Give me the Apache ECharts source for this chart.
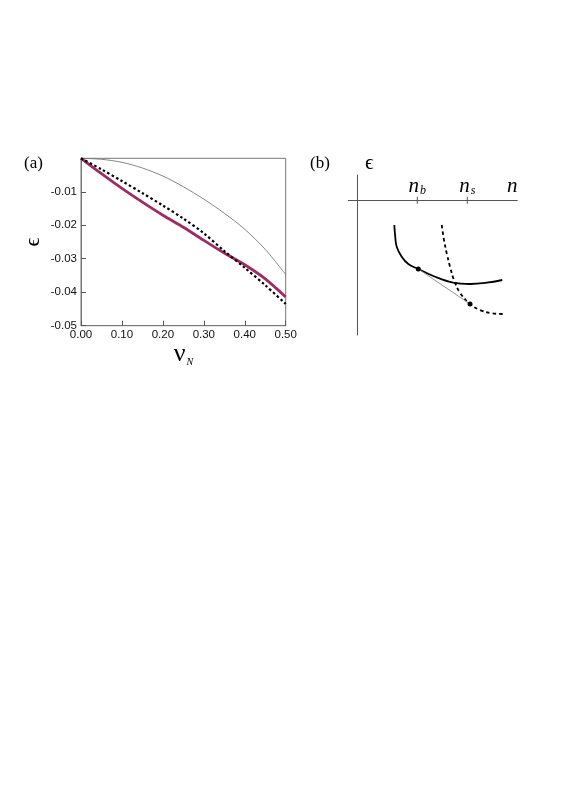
<!DOCTYPE html>
<html>
<head>
<meta charset="utf-8">
<script src="https://cdn.jsdelivr.net/npm/echarts@6.0.0/dist/echarts.min.js"></script>
<style>
  html, body { margin: 0; padding: 0; background: #fff; }
  #chart { width: 581px; height: 785px; }
</style>
</head>
<body>
<div id="chart"></div>
<script>
// panel (a): energy vs nu_N
const nuN = [0, 0.05, 0.10, 0.15, 0.20, 0.25, 0.30, 0.35, 0.40, 0.45, 0.50];
const epsThin = [0, -0.0003, -0.0012, -0.0029, -0.0053, -0.0085, -0.0122, -0.0164, -0.0212, -0.0272, -0.0347];
const epsPink = [0, -0.0046, -0.0090, -0.0131, -0.0170, -0.0206, -0.0245, -0.0283, -0.0318, -0.0360, -0.0414];
const epsDash = [0, -0.0033, -0.0068, -0.0104, -0.0141, -0.0180, -0.0224, -0.0277, -0.0327, -0.0379, -0.0435];

// panel (b): schematic, n vs epsilon (arbitrary units)
const bSolidN = [3.66, 3.75, 3.9, 4.4, 5.06, 6.06, 7.56, 9.56, 11.23, 12.9, 14.46];
const bSolidE = [-2.47, -3.6, -4.64, -5.64, -6.37, -6.87, -7.57, -8.24, -8.37, -8.24, -7.97];
const bDashN = [8.4, 8.63, 8.9, 9.23, 9.63, 10.23, 11.23, 12.23, 13.4, 14.63];
const bDashE = [-2.47, -3.97, -5.3, -6.64, -7.97, -9.24, -10.37, -10.97, -11.3, -11.37];
const bDotN = [6.06, 11.23];
const bDotE = [-6.87, -10.37];
const bTickN = [5.96, 10.96];
const bTickSub = ['b', 's'];

const zip = (xs, ys) => xs.map((x, i) => [x, ys[i]]);

const serif = 'Liberation Serif';
const sans = 'Liberation Sans';

const chart = echarts.init(document.getElementById('chart'), null, { renderer: 'canvas' });

const option = {
  backgroundColor: '#fff',
  animation: false,
  grid: [
    { left: 81, top: 158.3, width: 204.7, height: 167.4, show: true, borderColor: '#777', borderWidth: 1, backgroundColor: 'transparent' },
    { left: 348.3, top: 175, width: 169, height: 160, show: false }
  ],
  xAxis: [
    {
      gridIndex: 0, type: 'value', min: 0, max: 0.5, interval: 0.1,
      axisLine: { onZero: false, lineStyle: { color: '#777', width: 1 } },
      axisTick: { show: true, inside: true, length: 5, lineStyle: { color: '#555', width: 1 } },
      axisLabel: { color: '#111', fontFamily: sans, fontSize: 11.5, margin: 3, formatter: v => v.toFixed(2) },
      splitLine: { show: false },
      name: '{v|\u03bd}{s|N}', nameLocation: 'middle', nameGap: 13,
      nameTextStyle: {
        fontFamily: serif, fontSize: 26,
        rich: {
          v: { fontFamily: serif, fontSize: 26, color: '#000', lineHeight: 26, verticalAlign: 'bottom' },
          s: { fontFamily: serif, fontStyle: 'italic', fontSize: 10, color: '#000', lineHeight: 20, verticalAlign: 'bottom', padding: [0, 0, 0, 1] }
        }
      }
    },
    {
      gridIndex: 1, type: 'value', min: -0.94, max: 15.96,
      axisLine: { onZero: true, lineStyle: { color: '#555', width: 1 } },
      axisTick: { show: false }, axisLabel: { show: false }, splitLine: { show: false }
    }
  ],
  yAxis: [
    {
      gridIndex: 0, type: 'value', min: -0.05, max: 0, interval: 0.01,
      axisLine: { onZero: false, lineStyle: { color: '#777', width: 1 } },
      axisTick: { show: true, inside: true, length: 5, lineStyle: { color: '#555', width: 1 } },
      axisLabel: { color: '#111', fontFamily: sans, fontSize: 11.5, margin: 4, showMaxLabel: false, formatter: v => v.toFixed(2) },
      splitLine: { show: false },
      name: '\u03f5', nameLocation: 'middle', nameGap: 37,
      nameTextStyle: { fontFamily: serif, fontSize: 22, color: '#000' }
    },
    {
      gridIndex: 1, type: 'value', min: -13.47, max: 2.53,
      axisLine: { onZero: true, lineStyle: { color: '#555', width: 1 } },
      axisTick: { show: false }, axisLabel: { show: false }, splitLine: { show: false }
    }
  ],
  series: [
    {
      name: 'thin', type: 'line', xAxisIndex: 0, yAxisIndex: 0, smooth: 0.3, showSymbol: false,
      data: zip(nuN, epsThin), lineStyle: { color: '#777', width: 0.9 }, z: 2
    },
    {
      name: 'pink', type: 'line', xAxisIndex: 0, yAxisIndex: 0, smooth: 0.3, showSymbol: false,
      data: zip(nuN, epsPink), lineStyle: { color: '#9c2c64', width: 2.8 }, z: 3
    },
    {
      name: 'dashed', type: 'line', xAxisIndex: 0, yAxisIndex: 0, smooth: 0.3, showSymbol: false,
      data: zip(nuN, epsDash), lineStyle: { color: '#000', width: 2.2, type: [2.5, 2.5] }, z: 4
    },
    {
      name: 'b solid', type: 'line', xAxisIndex: 1, yAxisIndex: 1, smooth: 0.4, showSymbol: false,
      data: zip(bSolidN, bSolidE), lineStyle: { color: '#000', width: 1.8 }
    },
    {
      name: 'b dashed', type: 'line', xAxisIndex: 1, yAxisIndex: 1, smooth: 0.4, showSymbol: false,
      data: zip(bDashN, bDashE), lineStyle: { color: '#000', width: 1.8, type: [3.5, 3] }
    },
    {
      name: 'tangent', type: 'line', xAxisIndex: 1, yAxisIndex: 1, showSymbol: false,
      data: zip(bDotN, bDotE), lineStyle: { color: '#888', width: 0.9 }
    },
    {
      name: 'points', type: 'scatter', xAxisIndex: 1, yAxisIndex: 1, symbolSize: 5,
      data: zip(bDotN, bDotE), itemStyle: { color: '#000', opacity: 1 }, z: 5
    },
    {
      name: 'ticks', type: 'scatter', xAxisIndex: 1, yAxisIndex: 1,
      symbol: 'rect', symbolSize: [1, 7],
      data: bTickN.map((n, i) => ({ value: [n, 0], sub: bTickSub[i] })),
      itemStyle: { color: '#555', opacity: 1 },
      label: {
        show: true, position: 'top', distance: 0,
        fontFamily: serif, fontSize: 21, fontStyle: 'italic', color: '#000', opacity: 1,
        formatter: p => '{n|n}{s|' + p.data.sub + '}',
        rich: {
          n: { fontFamily: serif, fontStyle: 'italic', fontSize: 21, color: '#000', lineHeight: 22, verticalAlign: 'bottom' },
          s: { fontFamily: serif, fontStyle: 'italic', fontSize: 12, color: '#000', lineHeight: 16, verticalAlign: 'bottom', padding: [0, 0, 0, 1] }
        }
      }
    }
  ],
  graphic: [
    { type: 'text', left: 24, top: 155, style: { text: '(a)', font: '17px "Liberation Serif"', fill: '#000' } },
    { type: 'text', left: 310, top: 155, style: { text: '(b)', font: '17px "Liberation Serif"', fill: '#000' } },
    { type: 'text', left: 365, top: 153, style: { text: '\u03f5', font: '21px "Liberation Serif"', fill: '#000' } },
    { type: 'text', left: 507, top: 176, style: { text: 'n', font: 'italic 21px "Liberation Serif"', fill: '#000' } }
  ]
};

chart.setOption(option);
</script>
</body>
</html>
